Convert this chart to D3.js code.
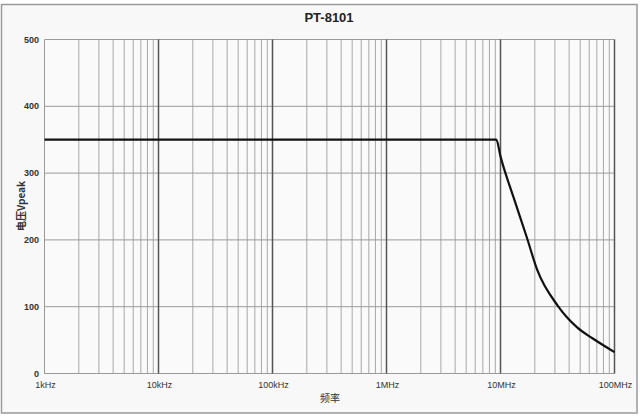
<!DOCTYPE html>
<html><head><meta charset="utf-8">
<script src="https://cdn.jsdelivr.net/npm/d3@7"></script>
<style>body{margin:0;background:#fff}svg{display:block}</style>
</head><body>
<svg id="c" width="640" height="418"></svg>
<script>
const title = "PT-8101";
const xLabel = "频率";
const yLabel = "电压Vpeak";
const freqHz = [1e3, 9.2e6, 1e7, 1.3e7, 1.7e7, 2.1e7, 3.16e7, 4.7e7, 6.5e7, 1e8];
const voltage = [350, 350, 325, 264, 204, 155, 102, 69, 52, 32];
const xTickValues = [1e3, 1e4, 1e5, 1e6, 1e7, 1e8];
const xTickLabels = ["1kHz", "10kHz", "100kHz", "1MHz", "10MHz", "100MHz"];
const yTickValues = [0, 100, 200, 300, 400, 500];

const svg = d3.select("#c");
const W = 640, H = 418;
const m = {l: 44.5, r: 614.5, t: 39.5, b: 373.5};

svg.append("rect").attr("x", 1.5).attr("y", 4.5).attr("width", 635.5).attr("height", 408.5)
  .attr("fill", "#f8f8f8").attr("stroke", "#9a9a9a").attr("stroke-width", 1.5);

const x = d3.scaleLog().domain([1e3, 1e8]).range([m.l, m.r]);
const y = d3.scaleLinear().domain([0, 500]).range([m.b, m.t]);

const plot = svg.append("rect").attr("x", m.l).attr("y", m.t).attr("width", m.r - m.l).attr("height", m.b - m.t)
  .attr("fill", "#fafafa");

// minor vertical grid
const minor = [];
for (let d = 3; d < 8; d++) for (let k = 2; k <= 9; k++) minor.push(k * Math.pow(10, d));
svg.append("g").selectAll("line").data(minor).join("line")
  .attr("x1", d => x(d)).attr("x2", d => x(d)).attr("y1", m.t).attr("y2", m.b)
  .attr("stroke", "#a8a8a8").attr("stroke-width", 1);

// horizontal grid
svg.append("g").selectAll("line").data(yTickValues).join("line")
  .attr("x1", m.l).attr("x2", m.r).attr("y1", d => y(d)).attr("y2", d => y(d))
  .attr("stroke", "#9a9a9a").attr("stroke-width", 1);

// major vertical grid
svg.append("g").selectAll("line").data(xTickValues).join("line")
  .attr("x1", d => x(d)).attr("x2", d => x(d)).attr("y1", m.t).attr("y2", m.b)
  .attr("stroke", d => d === 1e3 ? "#9a9a9a" : "#555").attr("stroke-width", d => d === 1e3 ? 1 : 1.5);

// curve
const pts = freqHz.map((f, i) => [f, voltage[i]]);
svg.append("path").datum(pts)
  .attr("d", d3.line().x(d => x(d[0])).y(d => y(d[1])).curve(d3.curveMonotoneX))
  .attr("fill", "none").attr("stroke", "#111").attr("stroke-width", 2.2);

const font = "'Liberation Sans', Arial, sans-serif";
// y tick labels
svg.append("g").selectAll("text").data(yTickValues).join("text")
  .attr("x", 39).attr("y", d => y(d) + 3).attr("text-anchor", "end")
  .attr("font-family", font).attr("font-size", 9).attr("font-weight", "bold").attr("fill", "#333")
  .text(d => d);
// x tick labels
svg.append("g").selectAll("text").data(xTickValues).join("text")
  .attr("x", d => x(d) + 1).attr("y", 388).attr("text-anchor", "middle")
  .attr("font-family", font).attr("font-size", 9).attr("fill", "#333")
  .text((d, i) => xTickLabels[i]);

svg.append("text").attr("x", 329).attr("y", 22).attr("text-anchor", "middle")
  .attr("font-family", font).attr("font-size", 13).attr("font-weight", "bold").attr("fill", "#222")
  .text(title);

svg.append("text").attr("x", 330).attr("y", 402).attr("text-anchor", "middle")
  .attr("font-family", "'Noto Sans CJK SC', sans-serif").attr("font-size", 10).attr("fill", "#333")
  .text(xLabel);

svg.append("text").attr("transform", "translate(25,206) rotate(-90)").attr("text-anchor", "middle")
  .attr("font-family", "'Noto Sans CJK SC', sans-serif").attr("font-size", 10).attr("font-weight", "bold").attr("fill", "#333")
  .text(yLabel);
</script>
</body></html>
